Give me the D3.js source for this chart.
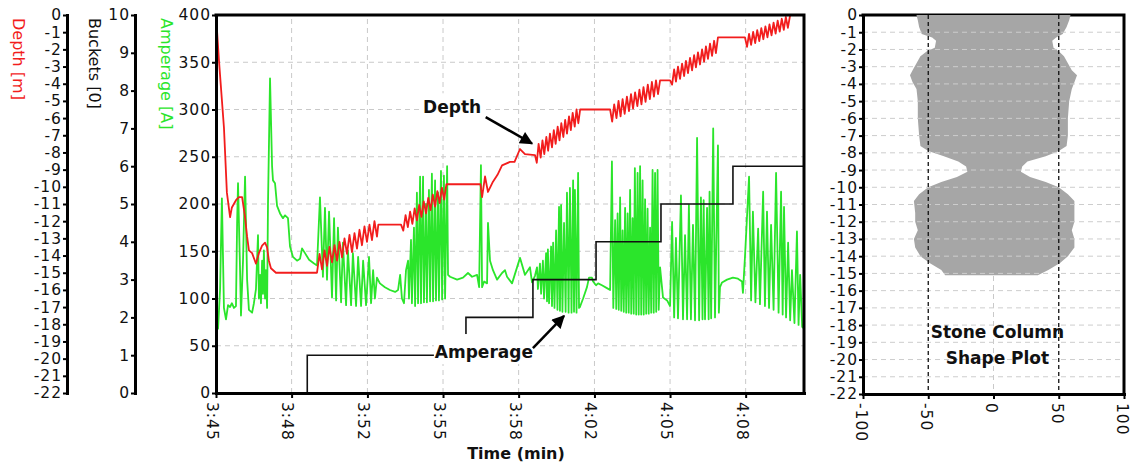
<!DOCTYPE html>
<html>
<head>
<meta charset="utf-8">
<script src="https://cdn.jsdelivr.net/npm/d3@7"></script>
<style>
  body { margin: 0; background: #fff; }
  svg text { font-family: "DejaVu Sans", sans-serif; }
</style>
</head>
<body>
<svg id="chart" width="1134" height="469"></svg>
<script>
// ---------------- data (time = minutes after 3:45) ----------------
var timeTicks  = [0, 3.33, 6.67, 10, 13.33, 16.67, 20, 23.33];
var timeLabels = ["3:45", "3:48", "3:52", "3:55", "3:58", "4:02", "4:05", "4:08"];
var ampTicks   = [0, 50, 100, 150, 200, 250, 300, 350, 400];
var bucketTicks = [0, 1, 2, 3, 4, 5, 6, 7, 8, 9, 10];
var depthTicks = [0, -1, -2, -3, -4, -5, -6, -7, -8, -9, -10, -11, -12, -13, -14, -15, -16, -17, -18, -19, -20, -21, -22];
var shapeTicks = [-100, -50, 0, 50, 100];

// depth of the probe [m]
var depthData = [
  [0,0],[0.13,-2.64],[0.35,-6.55],[0.48,-10.34],[0.62,-11.77],[0.70,-11.2],[0.88,-10.78],[1.01,-10.6],[1.15,-10.6],
  [1.28,-11.77],[1.37,-12.9],[1.45,-13.7],[1.59,-13.86],[1.76,-14.47],[1.89,-13.86],[2.03,-13.42],[2.16,-13.25],
  [2.25,-13.53],[2.33,-14.3],[2.42,-14.74],[2.64,-15.0],[4.45,-15.0],
  [4.56,-13.9],[4.67,-14.8],[4.78,-13.7],[4.89,-14.6],[5.00,-13.5],[5.11,-14.4],[5.22,-13.4],[5.33,-14.3],[5.44,-13.2],
  [5.55,-14.1],[5.66,-13.0],[5.77,-13.9],[5.88,-12.8],[5.99,-13.8],[6.10,-12.7],[6.21,-13.6],[6.32,-12.5],[6.43,-13.4],
  [6.54,-12.3],[6.65,-13.2],[6.76,-12.2],[6.87,-13.1],[6.98,-12.0],[7.09,-12.9],[7.15,-12.2],[8.15,-12.2],
  [8.25,-12.55],[8.35,-11.65],[8.45,-12.35],[8.55,-11.45],[8.65,-12.15],[8.75,-11.25],[8.85,-11.95],[8.95,-11.05],
  [9.05,-11.75],[9.15,-10.85],[9.25,-11.55],[9.35,-10.65],[9.45,-11.35],[9.55,-10.45],[9.65,-11.15],[9.75,-10.25],
  [9.85,-10.95],[9.95,-10.05],[10.05,-10.75],[10.15,-9.85],[11.54,-9.85],[11.65,-9.85],[11.72,-10.6],[11.85,-9.4],
  [11.98,-10.3],[12.2,-9.7],[12.4,-9.3],[12.6,-8.75],[12.95,-8.55],[13.15,-8.55],[13.39,-7.8],[13.61,-8.1],[14.05,-8.15],
  [14.13,-8.6],[14.21,-7.5],[14.30,-8.3],[14.38,-7.3],[14.46,-8.1],[14.55,-7.1],[14.63,-7.9],[14.71,-6.9],[14.80,-7.7],
  [14.88,-6.7],[14.96,-7.5],[15.05,-6.5],[15.13,-7.3],[15.21,-6.3],[15.30,-7.1],[15.38,-6.1],[15.46,-6.9],[15.55,-5.9],
  [15.63,-6.7],[15.71,-5.7],[15.80,-6.5],[15.88,-5.5],[15.96,-6.3],[16.04,-5.5],[17.36,-5.5],
  [17.45,-6.2],[17.54,-5.2],[17.64,-6.0],[17.73,-5.0],[17.82,-5.9],[17.91,-4.9],[18.00,-5.75],[18.10,-4.75],[18.19,-5.6],
  [18.28,-4.6],[18.37,-5.45],[18.46,-4.5],[18.56,-5.3],[18.65,-4.35],[18.74,-5.2],[18.83,-4.2],[18.92,-5.05],[19.02,-4.05],
  [19.11,-4.9],[19.20,-3.9],[19.29,-4.75],[19.38,-3.8],[19.47,-4.6],[19.56,-3.8],[20.0,-3.8],
  [20.09,-4.05],[20.18,-3.17],[20.26,-3.88],[20.35,-3.0],[20.44,-3.72],[20.53,-2.83],[20.62,-3.55],[20.70,-2.67],
  [20.79,-3.38],[20.88,-2.5],[20.97,-3.22],[21.06,-2.33],[21.14,-3.05],[21.23,-2.17],[21.32,-2.88],[21.41,-2.0],
  [21.50,-2.72],[21.58,-1.83],[21.67,-2.55],[21.76,-1.67],[21.85,-2.38],[21.94,-1.5],[22.02,-2.22],[22.11,-1.3],[23.3,-1.3],
  [23.39,-1.85],[23.48,-1.1],[23.57,-1.74],[23.66,-0.99],[23.75,-1.63],[23.84,-0.88],[23.93,-1.52],[24.02,-0.77],
  [24.11,-1.41],[24.20,-0.66],[24.29,-1.3],[24.38,-0.55],[24.47,-1.19],[24.56,-0.44],[24.65,-1.08],[24.74,-0.33],
  [24.83,-0.97],[24.92,-0.22],[25.01,-0.86],[25.10,-0.11],[25.19,-0.75],[25.29,0]
];

// amperage [A]
var ampData = [
  [0,70],[0.09,68],[0.18,110],[0.26,206],[0.35,90],[0.44,78],[0.53,93],[0.62,91],[0.70,95],[0.79,90],[0.88,92],
  [0.93,180],[0.97,222],[1.06,130],[1.10,82],[1.19,140],[1.28,229],[1.37,120],[1.45,88],[1.59,85],[1.67,95],[1.76,110],
  [1.85,167],[1.89,100],[1.94,125],[1.98,95],[2.03,140],[2.07,105],[2.11,151],[2.16,100],[2.20,130],[2.25,90],[2.29,200],
  [2.38,333],[2.47,240],[2.51,225],[2.60,222],[2.69,198],[2.82,190],[2.95,185],[3.04,188],[3.17,185],[3.26,155],[3.39,144],
  [3.57,140],[3.70,142],[3.79,153],[3.92,148],[4.10,141],[4.32,137],[4.45,135],
  [4.58,207],[4.71,123],[4.80,196],[4.89,120],[4.98,192],[5.11,101],[5.20,185],[5.29,98],[5.37,175],[5.51,96],[5.59,159],
  [5.73,93],[5.81,151],[5.95,93],[6.03,148],[6.17,92],[6.26,144],[6.39,92],[6.48,140],[6.61,93],[6.74,144],[6.83,95],
  [6.92,130],[7.00,100],[7.09,122],[7.22,116],[7.44,112],[7.66,109],[7.89,107],[8.02,109],
  [8.11,125],[8.19,100],[8.28,95],[8.37,130],[8.46,140],[8.50,100],[8.59,162],[8.63,95],[8.72,175],[8.77,92],[8.85,212],
  [8.90,95],[8.99,229],[9.03,95],[9.12,229],[9.16,96],[9.25,200],[9.29,96],[9.38,215],[9.43,97],[9.51,232],[9.56,97],
  [9.65,225],[9.69,98],[9.78,212],[9.82,98],[9.91,235],[9.96,99],[10.04,230],[10.09,100],[10.18,240],[10.22,125],
  [10.31,123],[10.62,120],[10.88,122],[11.10,127],[11.28,123],[11.50,125],[11.59,112],[11.67,241],[11.72,112],[11.81,118],
  [11.94,116],[11.98,180],[12.07,140],[12.20,130],[12.38,120],[12.60,127],[12.73,130],[12.82,123],[13.04,116],[13.39,143],
  [13.61,125],[13.83,133],[13.92,117],[14.05,124],
  [14.14,133],[14.18,110],[14.27,137],[14.32,105],[14.40,140],[14.45,100],[14.54,148],[14.58,97],[14.62,152],[14.67,95],
  [14.76,155],[14.80,92],[14.85,159],[14.91,90],[14.98,172],[15.04,88],[15.11,197],[15.15,87],[15.20,199],[15.26,86],
  [15.33,180],[15.40,86],[15.46,212],[15.53,85],[15.59,217],[15.66,85],[15.73,225],[15.77,86],[15.81,215],[15.88,85],
  [15.95,233],[15.99,90],[16.03,91],[16.17,100],[16.34,112],[16.43,122],[16.56,122],[16.61,118],[16.74,114],[16.83,116],
  [17.00,114],[17.22,111],[17.36,109],
  [17.44,245],[17.50,90],[17.58,183],[17.63,89],[17.69,190],[17.74,88],[17.80,207],[17.85,87],[17.91,172],[17.96,86],
  [18.02,196],[18.07,85],[18.13,190],[18.18,85],[18.24,215],[18.29,84],[18.35,185],[18.40,84],[18.45,238],[18.51,83],
  [18.57,233],[18.62,83],[18.68,240],[18.73,83],[18.79,225],[18.84,83],[18.90,205],[18.95,84],[19.01,195],[19.06,84],
  [19.12,175],[19.17,85],[19.23,236],[19.28,85],[19.34,233],[19.39,86],[19.45,236],[19.50,88],[19.56,133],[19.69,101],
  [19.87,98],[20.00,92],
  [20.09,181],[20.18,80],[20.26,164],[20.35,79],[20.48,209],[20.57,78],[20.66,167],[20.75,78],[20.83,199],[20.92,78],
  [21.01,178],[21.10,77],[21.19,270],[21.28,77],[21.36,207],[21.43,78],[21.48,204],[21.54,78],[21.63,196],[21.70,78],
  [21.74,213],[21.81,79],[21.90,280],[21.98,80],[22.11,262],[22.15,85],[22.20,112],[22.29,117],[22.51,120],[22.77,122],
  [22.99,121],[23.17,118],[23.21,106],[23.30,144],
  [23.48,229],[23.57,98],[23.65,192],[23.76,96],[23.88,174],[23.96,94],[24.10,213],[24.18,92],[24.27,192],[24.36,90],
  [24.45,178],[24.56,88],[24.67,233],[24.78,85],[24.89,213],[24.96,83],[25.02,197],[25.11,80],[25.20,159],[25.29,77],
  [25.37,130],[25.48,74],[25.59,171],[25.66,72],[25.73,125],[25.82,70],[25.9,68]
];

// buckets of stone, counter steps
var bucketTimes  = [0, 4.02, 11.01, 13.96, 16.74, 19.6, 22.77, 25.9];
var bucketCounts = [0, 1, 2, 3, 4, 5, 6, 6];

// stone column shape: depth [m], left and right edge
var shapeDepth = [0,-0.3,-0.7,-1.1,-1.3,-1.5,-1.9,-2.1,-2.4,-2.8,-3.2,-3.5,-3.9,-4.3,-5,-6,-7,-7.6,-7.9,-8.2,
                  -8.5,-8.8,-9.1,-9.4,-9.7,-10,-10.4,-10.8,-11.5,-12,-12.5,-13,-13.5,-14,-14.4,-14.8,-15.1];
var shapeLeft  = [-59,-58,-57,-55,-47,-44,-45,-51,-56,-59,-62,-64,-62,-59,-58,-58,-57,-56,-50,-38,
                  -27,-21,-20,-28,-40,-50,-57,-61,-60,-60,-58,-61,-60,-56,-49,-40,-37];
var shapeRight = [59,58,56,53,48,45,46,50,54,57,60,64,62,60,58,57,57,56,50,40,
                  26,22,21,28,40,50,57,62,62,62,60,62,62,57,51,42,34];

// ---------------- setup ----------------
var red = "#f21d1d", green = "#2be52b";
var tickFont = 15.5;
var plain = d => String(d);   // hyphen minus like the original

var svg = d3.select("#chart");

var x = d3.scaleLinear().domain([0, 25.9]).range([216, 804]);
var yAmp = d3.scaleLinear().domain([0, 400]).range([393, 15]);
var yDepth = d3.scaleLinear().domain([-22, 0]).range([393, 15]);
var yBuck = d3.scaleLinear().domain([0, 10]).range([393, 15]);

function styleAxis(g) {
  g.attr("font-family", "DejaVu Sans").attr("font-size", tickFont).attr("letter-spacing", "1px");
  g.select(".domain").attr("stroke-width", 3).attr("stroke-linecap", "square");
  g.selectAll(".tick line").attr("stroke-width", 2);
  g.selectAll(".tick text").attr("fill", "#111");
}

// arrow head
svg.append("defs").append("marker")
  .attr("id", "arrow").attr("viewBox", "0 0 10 10").attr("refX", 9).attr("refY", 5)
  .attr("markerUnits", "userSpaceOnUse").attr("markerWidth", 15).attr("markerHeight", 13)
  .attr("orient", "auto")
  .append("path").attr("d", "M0,0L10,5L0,10Z").attr("fill", "#000");

///////////////////////---------- MAIN PLOT ----------///////////////////////
var grid = svg.append("g").attr("stroke", "#c9c9c9").attr("stroke-width", 1).attr("stroke-dasharray", "5,4");
grid.selectAll(".gx").data(timeTicks.slice(1)).enter().append("line")
  .attr("x1", d => x(d)).attr("x2", d => x(d)).attr("y1", yAmp(0)).attr("y2", yAmp(400));
grid.selectAll(".gy").data(ampTicks.slice(1, -1)).enter().append("line")
  .attr("x1", x(0)).attr("x2", x.range()[1]).attr("y1", d => yAmp(d)).attr("y2", d => yAmp(d));

// amperage
svg.append("path").datum(ampData)
  .attr("fill", "none").attr("stroke", green).attr("stroke-width", 1.8).attr("stroke-linejoin", "round")
  .attr("d", d3.line().x(d => x(d[0])).y(d => yAmp(d[1])));

// depth
svg.append("path").datum(depthData)
  .attr("fill", "none").attr("stroke", red).attr("stroke-width", 1.8).attr("stroke-linejoin", "round")
  .attr("d", d3.line().x(d => x(d[0])).y(d => yDepth(d[1])));

// buckets
svg.append("path").datum(bucketTimes.map((t, i) => [t, bucketCounts[i]]))
  .attr("fill", "none").attr("stroke", "#111").attr("stroke-width", 1.6)
  .attr("d", d3.line().curve(d3.curveStepAfter).x(d => x(d[0])).y(d => yBuck(d[1])));

// annotations
function note(label, tx, ta, fromT, fromA, toT, toA, box) {
  svg.append("rect").attr("fill", "#fff")
    .attr("x", x(tx) - box[0] / 2).attr("y", yAmp(ta) - box[1] + 6)
    .attr("width", box[0]).attr("height", box[1]);
  svg.append("text").attr("x", x(tx)).attr("y", yAmp(ta))
    .attr("text-anchor", "middle").attr("font-family", "Open Sans").attr("font-weight", "bold")
    .attr("font-size", 17).attr("fill", "#111").text(label);
  svg.append("line").attr("x1", x(fromT)).attr("y1", yAmp(fromA)).attr("x2", x(toT)).attr("y2", yAmp(toA))
    .attr("stroke", "#000").attr("stroke-width", 2.5).attr("marker-end", "url(#arrow)");
}
note("Depth", 10.4, 296, 11.88, 292, 13.92, 264, [60, 26]);
note("Amperage", 11.8, 37, 13.96, 47.6, 15.33, 81.5, [100, 30]);

// frame top + right
svg.append("path").attr("d", "M" + x(0) + "," + yAmp(400) + "H" + x.range()[1] + "V" + yAmp(0))
  .attr("fill", "none").attr("stroke", "#000").attr("stroke-width", 3).attr("stroke-linecap", "square");

// axes
var xAxis = svg.append("g").attr("transform", "translate(0," + yAmp(0) + ")")
  .call(d3.axisBottom(x).tickValues(timeTicks).tickFormat((d, i) => timeLabels[i]).tickSize(5).tickSizeOuter(0));
styleAxis(xAxis);
xAxis.selectAll(".tick text").attr("transform", "rotate(90)").attr("x", 9).attr("y", 0)
  .attr("dy", "0.62em").attr("text-anchor", "start");

var ampAxis = svg.append("g").attr("transform", "translate(" + x(0) + ",0)")
  .call(d3.axisLeft(yAmp).tickValues(ampTicks).tickSize(4).tickPadding(1).tickSizeOuter(0));
styleAxis(ampAxis);

var buckAxis = svg.append("g").attr("transform", "translate(135,0)")
  .call(d3.axisLeft(yBuck).tickValues(bucketTicks).tickSize(4).tickPadding(1).tickSizeOuter(0));
styleAxis(buckAxis);

var depthAxis = svg.append("g").attr("transform", "translate(67,0)")
  .call(d3.axisLeft(yDepth).tickValues(depthTicks).tickFormat(plain).tickSize(4).tickPadding(1).tickSizeOuter(0));
styleAxis(depthAxis);

// axis titles
[["Depth [m]", 13, red], ["Buckets [0]", 89, "#111"], ["Amperage [A]", 161, green]].forEach(function (t) {
  svg.append("text").attr("transform", "translate(" + t[1] + ",18) rotate(90)")
    .attr("font-size", 16).attr("fill", t[2]).text(t[0]);
});

svg.append("text").attr("x", 516).attr("y", 459).attr("text-anchor", "middle")
  .attr("font-family", "Liberation Sans").attr("font-weight", "bold").attr("font-size", 16)
  .attr("fill", "#111").text("Time (min)");

///////////////////////---------- SHAPE PLOT ----------///////////////////////
var xs = d3.scaleLinear().domain([-100, 100]).range([863, 1124]);
var ys = d3.scaleLinear().domain([-22, 0]).range([394, 15]);

svg.append("line").attr("x1", xs(0)).attr("x2", xs(0)).attr("y1", ys(0)).attr("y2", ys(-22))
  .attr("stroke", "#c9c9c9").attr("stroke-dasharray", "5,4");

svg.append("path").attr("d", "M" + xs(-100) + "," + ys(0) + "H" + xs(100) + "V" + ys(-22))
  .attr("fill", "none").attr("stroke", "#000").attr("stroke-width", 3).attr("stroke-linecap", "square");

svg.append("path").datum(shapeDepth.map((d, i) => [d, shapeLeft[i], shapeRight[i]]))
  .attr("fill", "#a6a6a6")
  .attr("d", d3.area().y(d => ys(d[0])).x0(d => xs(d[1])).x1(d => xs(d[2])));

var sgrid = svg.append("g").attr("stroke", "#cdcdcd").attr("stroke-dasharray", "5,4");
sgrid.selectAll("line").data(depthTicks.slice(1, -1)).enter().append("line")
  .attr("x1", xs(-100)).attr("x2", xs(100)).attr("y1", d => ys(d)).attr("y2", d => ys(d));

svg.append("g").selectAll("line").data([-50, 50]).enter().append("line")
  .attr("x1", d => xs(d)).attr("x2", d => xs(d)).attr("y1", ys(0)).attr("y2", ys(-22))
  .attr("stroke", "#111").attr("stroke-width", 1.3).attr("stroke-dasharray", "4,3");

var sxAxis = svg.append("g").attr("transform", "translate(0," + ys(-22) + ")")
  .call(d3.axisBottom(xs).tickValues(shapeTicks).tickFormat(plain).tickSize(5).tickSizeOuter(0));
styleAxis(sxAxis);
sxAxis.selectAll(".tick text").attr("transform", "rotate(90)").attr("x", 9).attr("y", 0)
  .attr("dy", "0.5em").attr("text-anchor", "start");

var syAxis = svg.append("g").attr("transform", "translate(" + xs(-100) + ",0)")
  .call(d3.axisLeft(ys).tickValues(depthTicks).tickFormat(plain).tickSize(4).tickPadding(1).tickSizeOuter(0));
styleAxis(syAxis);

svg.append("g").attr("font-family", "Open Sans").attr("font-weight", "bold").attr("font-size", 17)
  .attr("text-anchor", "middle").attr("fill", "#111")
  .selectAll("text").data([["Stone Column", -18.75], ["Shape Plot", -20.25]]).enter().append("text")
  .attr("x", xs(3)).attr("y", d => ys(d[1])).text(d => d[0]);
</script>
</body>
</html>
